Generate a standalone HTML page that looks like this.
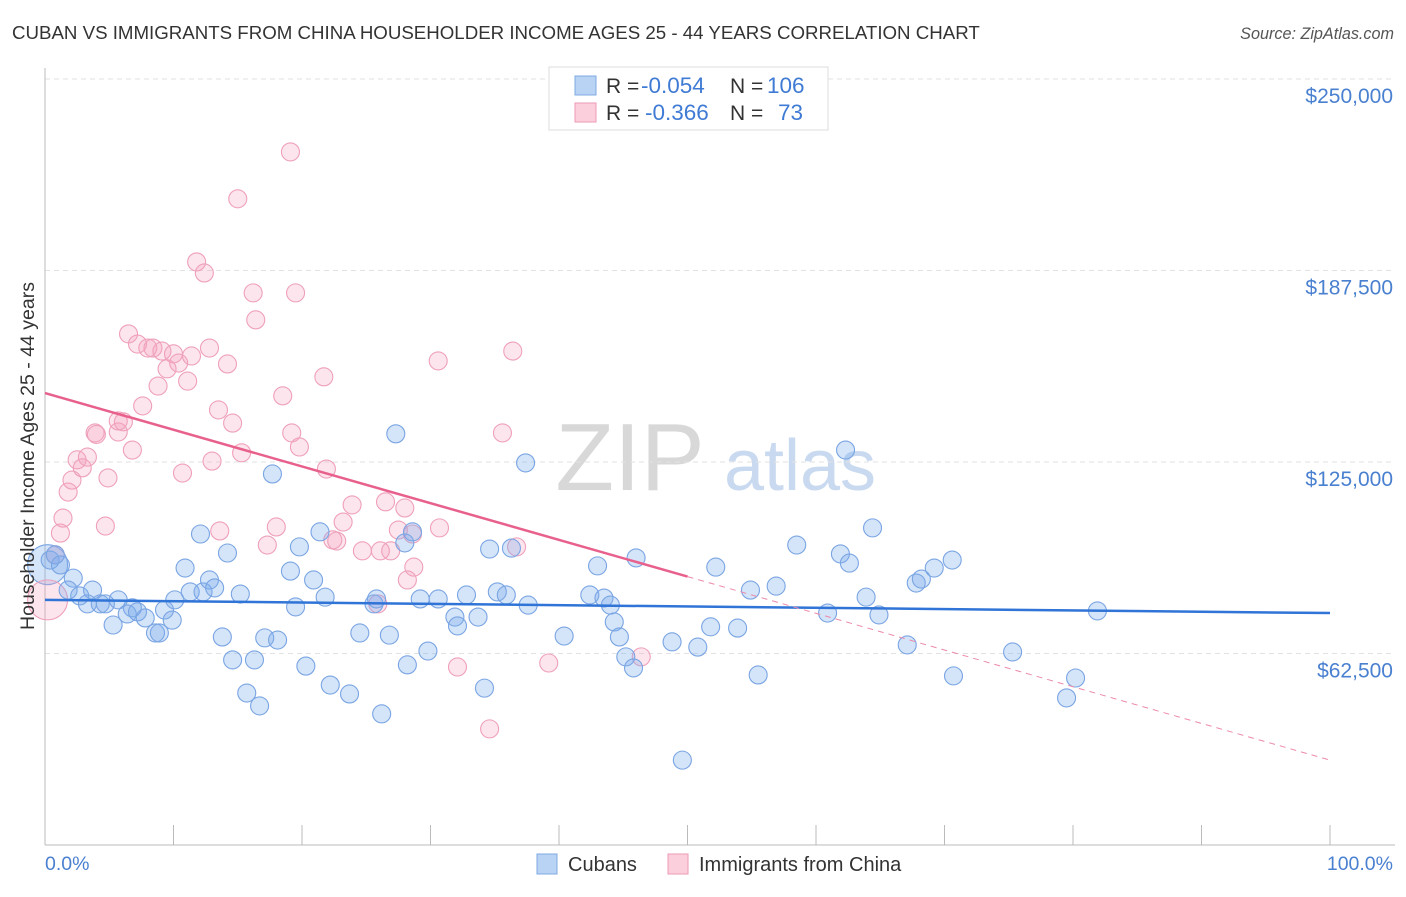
<!DOCTYPE html>
<html><head><meta charset="utf-8">
<style>
body{margin:0;background:#fff;font-family:"Liberation Sans",sans-serif;}
svg text{font-family:"Liberation Sans",sans-serif;}
</style></head>
<body>
<svg id="chart" width="1406" height="892" xmlns="http://www.w3.org/2000/svg">
<text x="12" y="39" font-size="18.7" fill="#333">CUBAN VS IMMIGRANTS FROM CHINA HOUSEHOLDER INCOME AGES 25 - 44 YEARS CORRELATION CHART</text>
<text x="1394" y="39" font-size="16.2" fill="#555" text-anchor="end" font-style="italic">Source: ZipAtlas.com</text>
<g>
<text x="630" y="490" font-size="96" fill="#d8d8d8" text-anchor="middle" font-family="Liberation Serif, serif">ZIP</text>
<text x="800" y="490" font-size="72" fill="#c9daf0" text-anchor="middle">atlas</text>
</g>
<g id="grid"></g>
<g id="axes"></g>
<g id="pts"></g>
<g id="trend"></g>
<text transform="translate(34,456) rotate(-90)" font-size="19.5" fill="#333" text-anchor="middle">Householder Income Ages 25 - 44 years</text>
<text x="45" y="870" font-size="19.5" fill="#4a80d0">0.0%</text>
<text x="1393" y="870" font-size="19.5" fill="#4a80d0" text-anchor="end">100.0%</text>
<g>
<rect x="549" y="67" width="279" height="63" fill="#fff" stroke="#ddd"/>
<rect x="575" y="76" width="21" height="19" fill="#b8d3f3" stroke="#7fa9e3"/>
<rect x="575" y="103" width="21" height="19" fill="#fbd0dc" stroke="#ee9ab5"/>
<text x="606" y="93" font-size="21" fill="#333">R =</text>
<text x="641" y="93" font-size="22.5" fill="#3f7bd4">-0.054</text>
<text x="730" y="93" font-size="21" fill="#333">N =</text>
<text x="767" y="93" font-size="22.5" fill="#3f7bd4">106</text>
<text x="606" y="120" font-size="21" fill="#333">R =</text>
<text x="645" y="120" font-size="22.5" fill="#3f7bd4">-0.366</text>
<text x="730" y="120" font-size="21" fill="#333">N =</text>
<text x="778" y="120" font-size="22.5" fill="#3f7bd4">73</text>
</g>
<g>
<rect x="537" y="854" width="20" height="20" fill="#b8d3f3" stroke="#7fa9e3"/>
<text x="568" y="871" font-size="20" fill="#333">Cubans</text>
<rect x="668" y="854" width="20" height="20" fill="#fbd0dc" stroke="#ee9ab5"/>
<text x="699" y="871" font-size="20" fill="#333">Immigrants from China</text>
</g>
</svg>
<script>
const yTicks=[62500,125000,187500,250000];
const yTickLabels=["$62,500","$125,000","$187,500","$250,000"];
const xTicks=[0,10,20,30,40,50,60,70,80,90,100];
const blueX=[0.4,0.8,1.2,2.2,1.8,2.7,3.7,3.3,4.3,4.7,5.7,5.3,6.8,6.4,7.2,7.8,8.6,8.9,9.3,9.9,10.1,10.9,11.3,12.1,12.3,12.8,13.2,13.8,14.2,14.6,15.2,15.7,16.3,16.7,17.1,17.7,18.1,19.1,19.5,19.8,20.3,20.9,21.4,21.8,22.2,23.7,24.5,25.6,25.8,26.2,26.8,27.3,28.0,28.2,28.6,29.2,29.8,30.6,31.9,32.1,32.8,33.7,34.2,34.6,35.2,35.9,36.3,37.4,37.6,40.4,42.4,43.0,43.5,44.0,44.3,44.7,45.2,45.8,46.0,48.8,49.6,50.8,51.8,52.2,53.9,54.9,55.5,56.9,58.5,60.9,61.9,62.3,62.6,63.9,64.4,64.9,67.1,67.8,68.2,69.2,70.6,70.7,75.3,79.5,80.2,81.9];
const blueY=[93.0,94.7,91.4,87.1,83.2,81.3,83.2,78.7,78.7,78.7,80.0,71.8,77.4,75.4,76.1,74.1,69.2,69.2,76.7,73.4,80.0,90.4,82.6,101.5,82.6,86.5,83.9,67.9,95.3,60.4,81.9,49.6,60.4,45.4,67.6,121.1,66.9,89.4,77.7,97.3,58.4,86.5,102.2,80.9,52.2,49.3,69.2,78.7,80.3,42.8,68.5,134.2,98.6,58.8,102.2,80.3,63.3,80.3,74.4,71.5,81.6,74.4,51.2,96.6,82.6,81.6,96.9,124.7,78.3,68.2,81.6,91.1,80.6,78.3,72.8,67.9,61.4,57.8,93.7,66.3,27.7,64.6,71.2,90.7,70.8,83.2,55.5,84.5,97.9,75.7,95.0,128.9,92.0,80.9,103.5,75.1,65.3,85.5,86.8,90.4,93.0,55.2,63.0,48.0,54.5,76.4];
const pinkX=[0.8,1.2,1.4,1.8,2.1,2.5,2.9,3.3,3.9,4.0,4.7,4.9,5.7,5.7,6.1,6.5,6.8,7.2,7.6,8.0,8.4,8.8,9.1,9.5,10.0,10.4,10.7,11.1,11.4,11.8,12.4,12.8,13.0,13.5,13.6,14.2,14.6,15.0,15.3,16.2,16.4,17.3,18.0,18.5,19.1,19.2,19.5,19.8,21.7,21.9,22.4,22.7,23.2,23.9,24.7,25.9,26.1,26.5,26.9,27.5,28.0,28.2,28.6,28.7,30.6,30.7,32.1,34.6,35.6,36.4,36.7,39.2,46.4];
const pinkY=[94.7,101.8,106.7,115.2,119.1,125.7,123.1,126.6,134.5,134.0,104.1,119.8,134.8,138.4,138.1,166.8,128.9,163.5,143.3,162.2,162.2,149.8,161.2,155.4,160.3,157.3,121.4,151.4,159.6,190.3,186.7,162.2,125.3,142.0,102.5,157.0,137.7,210.9,128.0,180.2,171.4,97.9,103.8,146.6,226.2,134.5,180.2,129.9,152.8,122.7,99.6,99.2,105.4,111.0,96.0,78.7,96.0,112.0,96.0,102.8,110.0,86.5,101.5,90.7,158.0,103.5,58.1,37.9,134.5,161.2,97.3,59.4,61.4];
const bigBlue=[0.2,91.5], bigPink=[0.2,80.0];
const blueTrend=[80.0,75.7], pinkTrend=[147.5,27.7];
const pinkSolidEnd=50;

const X0=45,X1=1330,Y0=845,PX=191.5/62500;
const sx=v=>X0+(X1-X0)*v/100;
const sy=v=>Y0-v*PX;
const NS="http://www.w3.org/2000/svg";
function mk(tag,attrs,parent){const e=document.createElementNS(NS,tag);for(const k in attrs)e.setAttribute(k,attrs[k]);parent.appendChild(e);return e;}
const grid=document.getElementById('grid'),axes=document.getElementById('axes'),pts=document.getElementById('pts'),trend=document.getElementById('trend');
yTicks.forEach((t,i)=>{
 const l=mk('line',{x1:X0,x2:1395,y1:sy(t),y2:sy(t),stroke:'#e2e2e2','stroke-dasharray':'5,4'},grid);
 
 
 const tx=mk('text',{x:1393,y:sy(t)+24,'font-size':21,fill:'#4a80d0','text-anchor':'end'},axes);
 tx.textContent=yTickLabels[i];
 
 
});
const tl=mk('line',{x1:X0,x2:1395,y1:79,y2:79,stroke:'#e2e2e2','stroke-dasharray':'5,4'},grid);


const ya=mk('line',{x1:X0,x2:X0,y1:68,y2:Y0,stroke:'#bbb'},axes);


const xa=mk('line',{x1:X0,x2:1395,y1:Y0,y2:Y0,stroke:'#bbb'},axes);


xTicks.forEach(t=>{
 const l=mk('line',{x1:sx(t),x2:sx(t),y1:825,y2:Y0,stroke:'#bbb'},axes);
 
 
});
function dot(x,y,r,blue){
 const c=mk('circle',{cx:sx(x),cy:sy(y*1000),r:r,fill:blue?'rgba(120,170,235,0.32)':'rgba(245,160,190,0.28)',stroke:blue?'#7aa5e3':'#efa0ba','stroke-width':1.1},pts);
 return c;
}
const bb=dot(bigBlue[0],bigBlue[1],20,true);


const bp=dot(bigPink[0],bigPink[1],20,false);


pinkX.forEach((x,i)=>{
 const c=dot(x,pinkY[i],9,false);
 
 
});
blueX.forEach((x,i)=>{
 const c=dot(x,blueY[i],9,true);
 
 
});
const by=x=>(blueTrend[0]+(blueTrend[1]-blueTrend[0])*x/100)*1000;
const py=x=>(pinkTrend[0]+(pinkTrend[1]-pinkTrend[0])*x/100)*1000;
const b=mk('line',{x1:sx(0),y1:sy(by(0)),x2:sx(100),y2:sy(by(100)),stroke:'#2f74d6','stroke-width':2.5},trend);


const p1=mk('line',{x1:sx(0),y1:sy(py(0)),x2:sx(pinkSolidEnd),y2:sy(py(pinkSolidEnd)),stroke:'#e8608c','stroke-width':2.5},trend);


const p2=mk('line',{x1:sx(pinkSolidEnd),y1:sy(py(pinkSolidEnd)),x2:sx(100),y2:sy(py(100)),stroke:'#ec8aa9','stroke-width':1,'stroke-dasharray':'6,5'},trend);


</script>
</body></html>
